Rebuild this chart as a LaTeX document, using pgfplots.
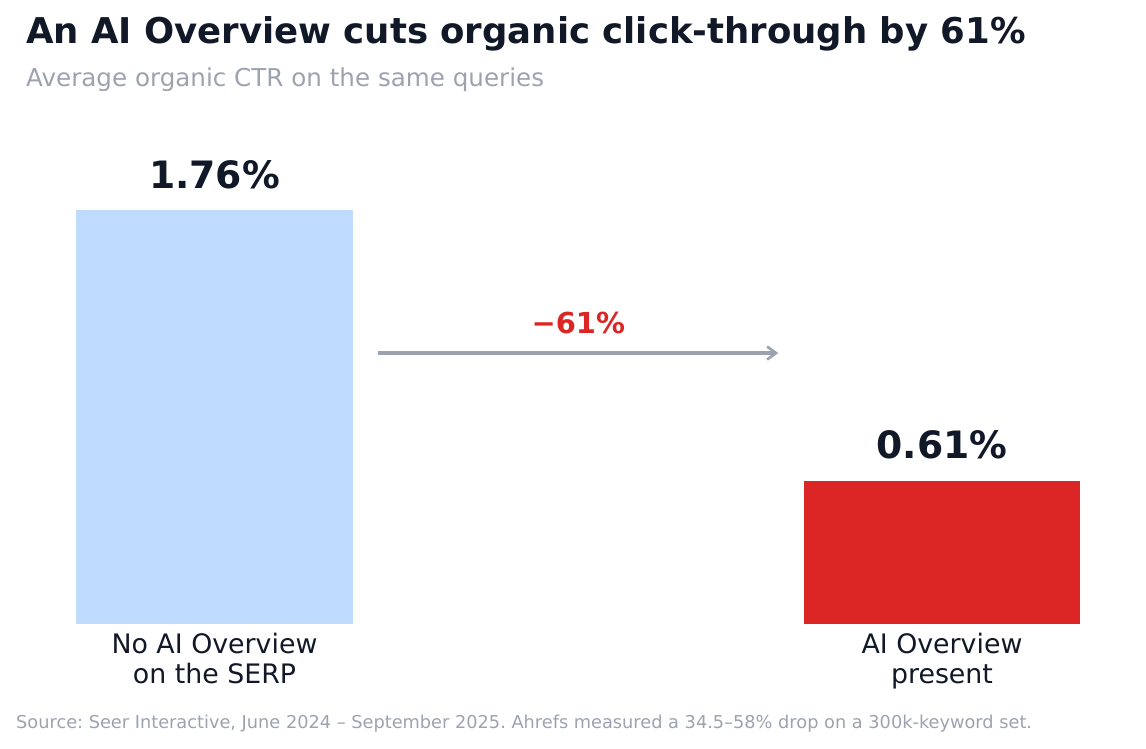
\documentclass[border=0pt]{standalone}
\usepackage{fontspec}
\setmainfont{DejaVu Sans}
\usepackage{pgfplots}
\pgfplotsset{compat=1.18}
\usetikzlibrary{arrows.meta}

\definecolor{inkdark}{HTML}{111827}
\definecolor{mutedgray}{HTML}{9CA3AF}
\definecolor{arrowgray}{HTML}{9CA3AF}
\definecolor{barblue}{HTML}{BFDBFE}
\definecolor{barred}{HTML}{DC2626}

\begin{document}
\frenchspacing
\begin{tikzpicture}
\path[use as bounding box] (0,0) rectangle (1146pt,748pt);

% title and subtitle
\node[anchor=base west, inner sep=0pt, text=inkdark,
      font=\fontsize{35.5}{43}\selectfont\bfseries]
  at (26pt,704pt) {An AI Overview cuts organic click-through by 61\%};
\node[anchor=base west, inner sep=0pt, text=mutedgray,
      font=\fontsize{24.6}{29}\selectfont]
  at (26pt,661pt) {Average organic CTR on the same queries};

\begin{axis}[
  at={(69pt,124pt)}, anchor=south west,
  scale only axis,
  width=1018.5pt, height=470.4pt,
  xmin=-0.2, xmax=1.2,
  ymin=0, ymax=2,
  axis line style={draw=none},
  tick style={draw=none},
  ytick=\empty,
  xtick={0,1},
  xticklabels={{No AI Overview\\on the SERP},{AI Overview\\present}},
  xticklabel style={align=center, inner sep=0pt, yshift=-9pt, text=inkdark,
                    font=\fontsize{26.8}{30}\selectfont},
  clip=false,
]
\addplot[ybar, bar width=0.38, bar shift=0pt, fill=barblue, draw=none]
  coordinates {(0,1.76)};
\addplot[ybar, bar width=0.38, bar shift=0pt, fill=barred, draw=none]
  coordinates {(1,0.61)};

% value labels
\node[anchor=base, inner sep=0pt, yshift=22pt, text=inkdark,
      font=\fontsize{37.7}{45}\selectfont\bfseries]
  at (axis cs:0,1.76) {1.76\%};
\node[anchor=base, inner sep=0pt, yshift=22pt, text=inkdark,
      font=\fontsize{37.7}{45}\selectfont\bfseries]
  at (axis cs:1,0.61) {0.61\%};

% change arrow
\draw[arrowgray, line width=3.2pt, -{Straight Barb[length=9pt, width=13pt, line width=2.6pt]}]
  (axis cs:0.225,1.152) -- (axis cs:0.775,1.152);
\node[anchor=base, inner sep=0pt, yshift=20pt, text=barred,
      font=\fontsize{28.9}{34}\selectfont\bfseries]
  at (axis cs:0.5,1.152) {−61\%};
\end{axis}

% source note
\node[anchor=base west, inner sep=0pt, text=mutedgray,
      font=\fontsize{17.75}{21}\selectfont]
  at (16pt,20pt) {Source: Seer Interactive, June 2024 – September 2025. Ahrefs measured a 34.5–58\% drop on a 300k-keyword set.};
\end{tikzpicture}
\end{document}
